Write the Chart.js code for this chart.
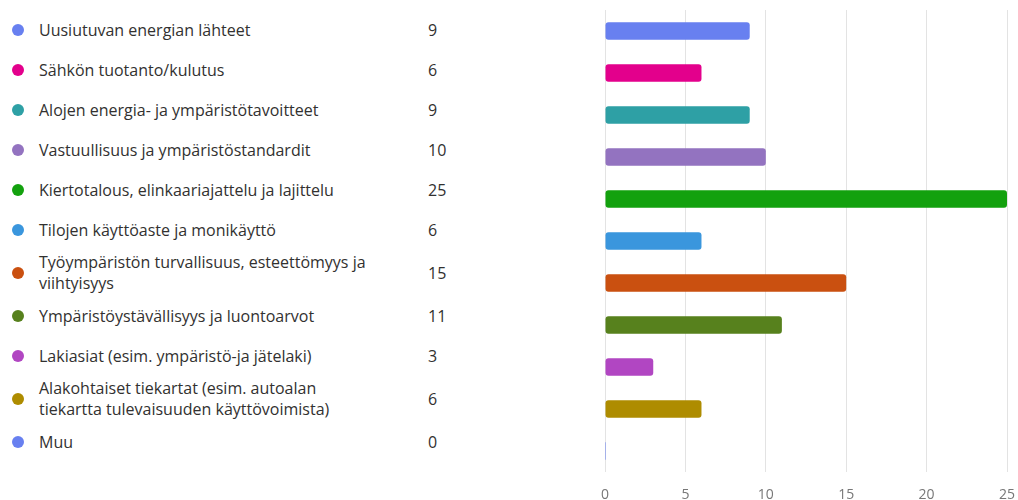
<!DOCTYPE html>
<html>
<head>
<meta charset="utf-8">
<script src="https://cdn.jsdelivr.net/npm/chart.js@4"></script>
<style>
  html, body { margin: 0; padding: 0; background: #fff; overflow: hidden; }
  body { width: 1018px; height: 500px; position: relative; font-family: "Open Sans", sans-serif; color: #323130; }
  #answer-list { position: absolute; left: 0; top: 10px; width: 470px; }
  .answer-row { display: flex; align-items: center; min-height: 40px; padding: 2px 0; box-sizing: border-box; font-size: 16px; line-height: 21px; }
  .answer-dot { width: 12px; height: 12px; border-radius: 50%; margin-left: 12px; flex: none; }
  .answer-text { margin-left: 15px; width: 389px; flex: none; }
  .answer-text span { display: block; white-space: nowrap; }
  .answer-count { flex: none; }
  #chart-box { position: absolute; left: 590px; top: 0; width: 428px; height: 510px; }
</style>
</head>
<body>
<div id="answer-list"></div>
<div id="chart-box"><canvas id="answers-chart"></canvas></div>
<script>
// answer options (multi-line ones are split where the original wraps)
const categories = [
    ["Uusiutuvan energian lähteet"],
    ["Sähkön tuotanto/kulutus"],
    ["Alojen energia- ja ympäristötavoitteet"],
    ["Vastuullisuus ja ympäristöstandardit"],
    ["Kiertotalous, elinkaariajattelu ja lajittelu"],
    ["Tilojen käyttöaste ja monikäyttö"],
    ["Työympäristön turvallisuus, esteettömyys ja", "viihtyisyys"],
    ["Ympäristöystävällisyys ja luontoarvot"],
    ["Lakiasiat (esim. ympäristö-ja jätelaki)"],
    ["Alakohtaiset tiekartat (esim. autoalan", "tiekartta tulevaisuuden käyttövoimista)"],
    ["Muu"]
];
const answerCounts = [9, 6, 9, 10, 25, 6, 15, 11, 3, 6, 0];
const answerColors = ["#6880f0", "#e3008c", "#2ea0a5", "#9373c0", "#13a10e", "#3a96dd", "#ca5010", "#57811d", "#b146c2", "#ae8c00", "#6880f0"];
const xTicks = [0, 5, 10, 15, 20, 25];

const $list = document.querySelector("#answer-list");
categories.forEach((lines, i) => {
    const row = document.createElement("div");
    row.className = "answer-row";
    row.innerHTML =
        `<div class="answer-dot" style="background:${answerColors[i]}"></div>` +
        `<div class="answer-text">${lines.map(l => `<span>${l}</span>`).join("")}</div>` +
        `<div class="answer-count">${answerCounts[i]}</div>`;
    $list.appendChild(row);
});

const ctx = document.querySelector("#answers-chart").getContext("2d");
new Chart(ctx, {
    type: "bar",
    data: {
        labels: categories.map(l => l.join(" ")),
        datasets: [{
            data: answerCounts,
            backgroundColor: answerColors,
            borderRadius: 3,
            borderSkipped: false,
            minBarLength: 1,
            categoryPercentage: 1,
            barPercentage: 0.42
        }]
    },
    options: {
        indexAxis: "y",
        responsive: true,
        maintainAspectRatio: false,
        animation: false,
        layout: { padding: { left: 15, right: 11, top: 10, bottom: 0 } },
        plugins: { legend: { display: false }, tooltip: { enabled: false } },
        scales: {
            y: { display: false },
            x: {
                min: xTicks[0],
                max: xTicks[xTicks.length - 1],
                afterBuildTicks: (scale) => { scale.ticks = xTicks.map(v => ({ value: v })); },
                // keep the plot area fixed, labels may hang over the edges
                afterFit: (scale) => { scale.paddingLeft = 0; scale.paddingRight = 0; scale.height = 38; },
                grid: { color: "#e3e3e3", lineWidth: 1, drawTicks: false },
                border: { display: false },
                ticks: { color: "#777", padding: 15, font: { family: "Open Sans", size: 14 } }
            }
        }
    }
});
</script>
</body>
</html>
